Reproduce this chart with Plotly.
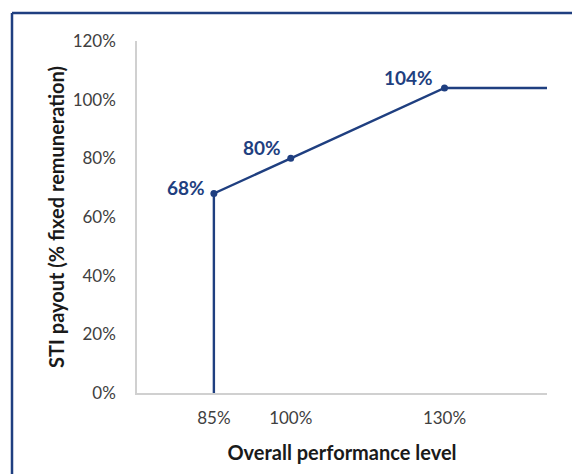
import plotly.graph_objects as go

# Payout curve: performance level (%) vs STI payout (% of fixed remuneration)
performance = [85, 85, 100, 130, 150]
payout = [0, 68, 80, 104, 104]

# Points that carry a marker and a value label
key_perf = [85, 100, 130]
key_payout = [68, 80, 104]
key_labels = ["68%", "80%", "104%"]

x_ticks = [85, 100, 130]
x_tick_text = ["85%", "100%", "130%"]
y_ticks = [0, 20, 40, 60, 80, 100, 120]
y_tick_text = ["0%", "20%", "40%", "60%", "80%", "100%", "120%"]

NAVY = "#1f3f80"
FONT = "Lato, 'Open Sans', sans-serif"

W, H = 572, 474
ML, MR, MT, MB = 137, 25, 41, 81
PW, PH = W - ML - MR, H - MT - MB

fig = go.Figure()

fig.add_trace(go.Scatter(
    x=performance, y=payout, mode="lines",
    line=dict(color=NAVY, width=2.4),
    hoverinfo="skip", showlegend=False,
))
fig.add_trace(go.Scatter(
    x=key_perf, y=key_payout, mode="markers",
    marker=dict(color=NAVY, size=7),
    showlegend=False,
))

# value labels beside the kink points
label_shifts = [(-7, 6, "right", "middle"), (-8, -3, "right", "bottom"), (-10, -3, "right", "bottom")]
for xv, yv, txt, (dx, dy, xa, ya) in zip(key_perf, key_payout, key_labels, label_shifts):
    fig.add_annotation(
        x=xv, y=yv, text=f"<b>{txt}</b>", showarrow=False,
        xanchor=xa, yanchor=ya, xshift=dx, yshift=dy,
        font=dict(family=FONT, size=19, color=NAVY),
    )

# frame lines along the top and left edges of the panel
top_y = 1 + (MT - 13) / PH
left_x = (12 - ML) / PW
fig.add_shape(type="line", xref="paper", yref="paper",
              x0=left_x, x1=(W - ML) / PW, y0=top_y, y1=top_y,
              line=dict(color=NAVY, width=2.5))
fig.add_shape(type="line", xref="paper", yref="paper",
              x0=left_x, x1=left_x, y0=top_y, y1=-MB / PH - 0.01,
              line=dict(color=NAVY, width=2.5))

fig.update_layout(
    width=W, height=H,
    margin=dict(l=ML, r=MR, t=MT, b=MB),
    paper_bgcolor="white", plot_bgcolor="white",
    font=dict(family=FONT, size=17, color="#404040"),
)
fig.update_xaxes(
    range=[70, 150], tickvals=x_ticks, ticktext=x_tick_text,
    showgrid=False, zeroline=False, showline=True, automargin=False,
    linecolor="#d0d0d0", linewidth=1.5, ticks="", ticklabelstandoff=9,
    tickfont=dict(family=FONT, size=17, color="#404040"),
    title=dict(text="<b>Overall performance level</b>", standoff=19,
               font=dict(family=FONT, size=20, color="#1a1a1a")),
)
fig.update_yaxes(
    range=[0, 120], tickvals=y_ticks, ticktext=y_tick_text,
    showgrid=False, zeroline=False, showline=True, automargin=False,
    linecolor="#d0d0d0", linewidth=1.5, ticks="", ticklabelstandoff=16,
    tickfont=dict(family=FONT, size=17, color="#404040"),
    title=dict(text="<b>STI payout (% fixed remuneration)</b>", standoff=3,
               font=dict(family=FONT, size=20, color="#1a1a1a")),
)

fig.write_html("out.html")
